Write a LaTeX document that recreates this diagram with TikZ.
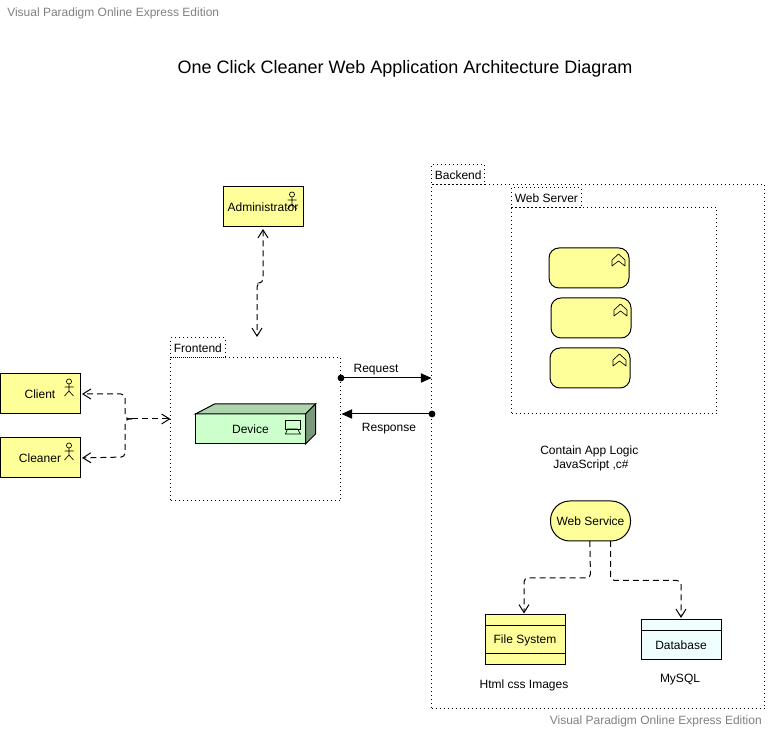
\documentclass[tikz,border=0pt]{standalone}
\usepackage{fontspec}
\setmainfont{Liberation Sans}
\usetikzlibrary{arrows.meta,positioning,calc}
\definecolor{ny}{RGB}{255,255,153}
\definecolor{ngr}{RGB}{204,255,204}
\definecolor{ngt}{RGB}{173,212,173}
\definecolor{ngs}{RGB}{122,153,122}
\definecolor{ndb}{RGB}{239,255,255}
\definecolor{wm}{RGB}{128,128,128}
\tikzset{
  base/.style={rectangle,draw=black,line width=0.75pt,outer sep=0pt,inner sep=0pt,
    font=\fontsize{9}{10.5}\selectfont},
  an/.style={base,fill=ny,minimum width=60pt,minimum height=30pt},
  rn/.style={an,rounded corners=7.5pt},
  svc/.style={an,rounded corners=14.5pt},
  dbn/.style={an,fill=ndb},
  fsn/.style={an,minimum height=37.5pt},
  frame/.style={base,dash pattern=on 0.75pt off 2.25pt,line cap=butt},
  tab/.style={frame,inner xsep=2.5pt,minimum height=15pt,anchor=south west},
  lbl/.style={font=\fontsize{9}{10.5}\selectfont,inner sep=0pt},
  wmk/.style={lbl,text=wm},
  dep/.style={line width=0.75pt,dash pattern=on 4.5pt off 3pt,rounded corners=3pt,
    {Straight Barb[length=6pt,width=7.5pt]}-{Straight Barb[length=6pt,width=7.5pt]}},
  dep1/.style={dep,-{Straight Barb[length=6pt,width=7.5pt]}},
  flow/.style={line width=0.75pt,shorten <=-2.5pt,{Circle[length=5pt]}-{Triangle[length=8pt,width=7pt]}},
  stick/.pic={
    \draw[line width=0.5pt] (0,2.5) circle (1.9pt);
    \draw[line width=0.5pt] (0,5) -- (0,12) (-4.5,8) -- (4.5,8) (-4.5,17) -- (0,12) -- (4.5,17);
  },
  chev/.pic={
    \draw[line width=0.5pt,line join=round] (-6.5,6) -- (0,0) -- (6.5,6) -- (6.5,12) -- (0,7) -- (-6.5,12) -- cycle;
  },
}
\begin{document}
\begin{tikzpicture}[x=0.75pt,y=-0.75pt]
  \useasboundingbox (0,-1) rectangle (768,729);
  \node[wmk,anchor=west] (wmtop) at (7,12) {Visual Paradigm Online Express Edition};
  \node[wmk,anchor=east] (wmbot) at (762,720) {Visual Paradigm Online Express Edition};
  \node[lbl,font=\fontsize{13.5}{16}\selectfont] (title) at (405,68)
    {One Click Cleaner Web Application Architecture Diagram};

  % frames
  \node[frame,minimum width=127.5pt,minimum height=107.25pt] (frontend) at (255.5,428.5) {};
  \node[tab,above right=0pt of frontend.north west] (frontendtab) {Frontend};
  \node[frame,minimum width=249.75pt,minimum height=393pt] (backend) at (598,446) {};
  \node[tab,above right=0pt of backend.north west] (backendtab) {Backend};
  \node[frame,minimum width=153.75pt,minimum height=154.5pt] (webserver) at (614,310) {};
  \node[tab,above right=0pt of webserver.north west] (webservertab) {Web Server};

  % actors
  \node[an] (client) at (40,393) {Client};
  \node[an,below=18pt of client] (cleaner) {Cleaner};
  \node[an] (admin) at (263,206) {Administrator};
  \foreach \a in {client,cleaner,admin}
    \pic at ([xshift=-8.25pt,yshift=-3.75pt]\a.north east) {stick};

  % device
  \node[base,fill=ngr,minimum width=82.5pt,minimum height=22.5pt] (device) at (250.5,428) {Device};
  \draw[fill=ngt,line width=0.75pt] (device.north west) -- ++(19,-10) -- ++(101,0) -- (device.north east) -- cycle;
  \draw[fill=ngs,line width=0.75pt] (device.north east) -- ++(10,-10) -- ++(0,30) -- (device.south east) -- cycle;
  \draw[line width=0.5pt] ([xshift=-15pt,yshift=-4.5pt]device.north east) rectangle ++(15,9);
  \draw[line width=0.5pt] ([xshift=-13.5pt,yshift=-11.25pt]device.north east) -- ++(10,0) -- ++(3,5) -- ++(-15,0) -- cycle;

  % web server
  \node[rn] (app1) at (589,267) {};
  \node[rn] (app2) at (591,317) {};
  \node[rn] (app3) at (590,367) {};
  \foreach \a in {app1,app2,app3}
    \pic at ([xshift=-7.875pt,yshift=-4.5pt]\a.north east) {chev};
  \node[lbl,anchor=west,align=left] (logic) at (540,457)
    {Contain App Logic\\\hspace*{9.75pt}JavaScript ,c\#};

  % web service and stores
  \node[svc] (service) at (590.5,520) {Web Service};
  \node[fsn] (files) at (525,639) {File System};
  \draw[line width=0.75pt] ([yshift=-8.25pt]files.north west) -- ([yshift=-8.25pt]files.north east);
  \draw[line width=0.75pt] ([yshift=8.25pt]files.south west) -- ([yshift=8.25pt]files.south east);
  \node[dbn] (db) at (681,639) {\smash{\raisebox{-7pt}{Database}}};
  \draw[line width=0.75pt] ([yshift=-8.25pt]db.north west) -- ([yshift=-8.25pt]db.north east);
  \node[lbl] (fileslbl) at (524,684) {Html css Images};
  \node[lbl] (dblbl) at (680,679) {MySQL};

  % connectors
  \coordinate (jn) at (132,418);
  \draw[dep1,shorten >=1.5pt] (jn) -- (125,418) -- (125,393) -- (client.east);
  \draw[dep1,shorten >=1.5pt] (jn) -- (125,418) -- (125,456) -- (cleaner.east);
  \draw[dep1] (jn) -- (jn -| frontend.west);
  \coordinate (admbend) at (263,282);
  \draw[dep,shorten <=1.5pt] (admin.south) -- (admbend) -- (257,282) -- (257,336);
  \draw[flow] (341,377) coordinate (reqa) -- (reqa -| backend.west);
  \node[lbl] (reqlbl) at (376,369) {Request};
  \draw[flow] (432,413) coordinate (resa) -- ([xshift=0.75pt]resa -| frontend.east);
  \node[lbl] (reslbl) at (389,428) {Response};
  \coordinate (sv) at (service.south);
  \draw[dep1] ([xshift=-0.5pt]sv) -- (590.5,577) -- (524,577) -- (524,612.5);
  \draw[dep1] ([xshift=15pt]sv) -- (610.5,579.5) -- (681,579.5) -- (681,617);
\end{tikzpicture}
\end{document}
